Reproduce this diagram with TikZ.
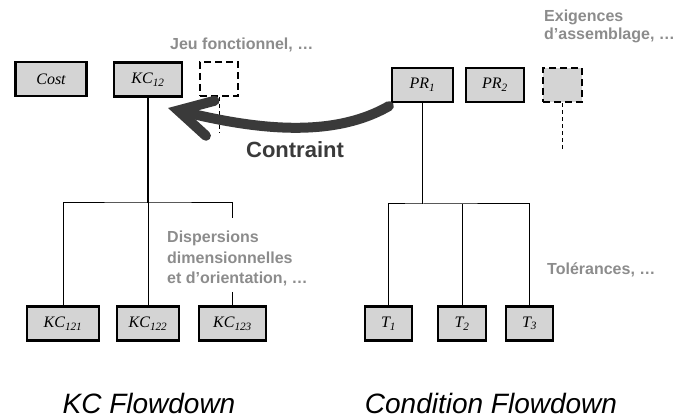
\documentclass[tikz,border=0pt]{standalone}
\usepackage{fontspec}
\setmainfont{Liberation Sans}
\newfontfamily\boxfont{Liberation Serif}
\usetikzlibrary{arrows.meta,calc}
\definecolor{boxgray}{HTML}{D4D4D4}
\definecolor{labgray}{HTML}{8C8C8C}
\definecolor{arrgray}{HTML}{3A3A3A}
\tikzset{
  kbox/.style={draw=black, line width=2.2pt, fill=boxgray, minimum height=34pt, inner sep=0pt, font=\boxfont\itshape\fontsize{16}{18}\selectfont},
  dbox/.style={draw=black, line width=2.2pt, dash pattern=on 7pt off 4pt, minimum width=38pt, minimum height=34pt, inner sep=0pt},
  link/.style={draw=black, line width=1pt},
  dlink/.style={draw=black, line width=1pt, dash pattern=on 4pt off 3pt},
  glabel/.style={text=labgray, font=\bfseries\fontsize{16}{18}\selectfont, align=left, inner sep=0pt},
  title/.style={font=\itshape\fontsize{28}{32}\selectfont, inner sep=0pt}
}
\begin{document}
\begin{tikzpicture}[x=1pt,y=-1pt]
\useasboundingbox (0,0) rectangle (675,419);
% left tree
\node[kbox, minimum width=71pt] (cost) at (51,79) {Cost};
\node[kbox, minimum width=68pt] (kc12) at (148,79.5) {KC\textsubscript{12}};
\node[dbox] (d1) at (219,79) {};
\node[kbox, minimum width=72pt] (kc121) at (63,323.5) {KC\textsubscript{121}};
\node[kbox, minimum width=62pt] (kc122) at (148,323.5) {KC\textsubscript{122}};
\node[kbox, minimum width=67pt] (kc123) at (232.5,323.5) {KC\textsubscript{123}};
\coordinate (j1) at (148,203);
\coordinate (b1) at (232.5,218);
\coordinate (b2) at (232.5,292);
\coordinate (e1) at (219,133);
\draw[link, line width=1.4pt] (kc12.south) -- (j1);
\draw[link] (kc121.north) |- (j1) -| (b1);
\draw[link] (kc122.north) -- (j1);
\draw[link] (b2) -- (kc123.north);
\draw[dlink] (d1.south) -- (e1);
% right tree
\node[kbox, minimum width=61pt] (pr1) at (422.5,85) {PR\textsubscript{1}};
\node[kbox, minimum width=58pt] (pr2) at (495,85) {PR\textsubscript{2}};
\node[dbox, fill=boxgray, minimum width=39pt] (d2) at (562.5,85) {};
\node[kbox, minimum width=47pt] (t1) at (388.5,323.5) {T\textsubscript{1}};
\node[kbox, minimum width=48pt] (t2) at (462,323.5) {T\textsubscript{2}};
\node[kbox, minimum width=47pt] (t3) at (529.5,323.5) {T\textsubscript{3}};
\coordinate (j2) at (422.5,204);
\coordinate (e2) at (562.5,150);
\draw[link] (pr1.south) -- (j2);
\draw[link] (t1.north) |- (j2) -| (t3.north);
\draw[link] (t2.north) -- (t2.north |- j2);
\draw[dlink] (d2.south) -- (e2);
% labels
\node[glabel, anchor=west] (l1) at (170,45) {Jeu fonctionnel, …};
\node[glabel, anchor=north west] (l2) at (544,9.5) {Exigences\\d’assemblage, …};
\node[glabel, anchor=north west, font=\bfseries\fontsize{16}{20.5}\selectfont] (l3) at (167,231) {Dispersions\\dimensionnelles\\et d’orientation, …};
\node[glabel, anchor=west] (l4) at (547,270) {Tolérances, …};
% constraint arrow
\coordinate (tip) at (168,108);
\draw[arrgray, line width=10pt, line cap=round, -{Straight Barb[length=33pt,width=36pt,line cap=round]}]
  ([shift={(-2,3)}]pr1.south west) .. controls (330,140) and (250,128) .. (tip);
\node[text=arrgray, font=\bfseries\fontsize{22}{26}\selectfont, inner sep=0pt] (con) at (295,150) {Contraint};
% titles
\node[title, anchor=base] (t-kc) at (149,414) {KC Flowdown};
\node[title, anchor=base] (t-cond) at (491,414) {Condition Flowdown};
\end{tikzpicture}
\end{document}
